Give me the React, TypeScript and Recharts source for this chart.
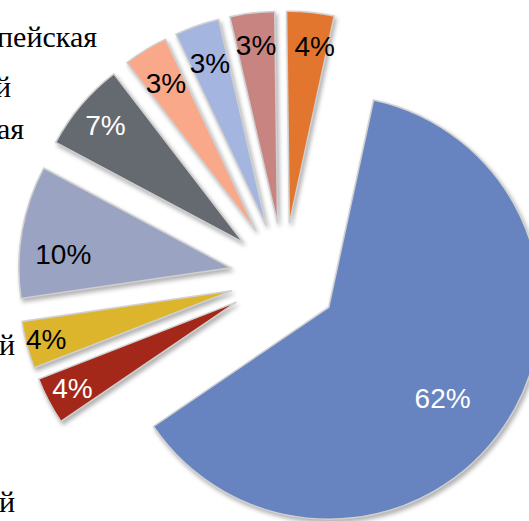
import React from "react";
import { PieChart, Pie, Cell, Customized } from "recharts";

// shares in percent, clockwise from the first slice
const shares = [62.1, 3.6, 3.6, 10.1, 6.8, 3.4, 3.4, 3.4, 3.6];
const sliceNames = ["s1", "s2", "s3", "s4", "s5", "s6", "s7", "s8", "s9"];
const colors = [
  "#6784c0",
  "#a3281a",
  "#dcb52c",
  "#9aa4c2",
  "#656a71",
  "#f9a98a",
  "#a4b5e0",
  "#c78481",
  "#e2762f",
];
const labelColors = ["#fff", "#fff", "#000", "#000", "#fff", "#000", "#000", "#000", "#000"];
// the legend is cut by the left edge: only the word endings show
const legendTails = ["пейская", "й", "ая", "й", "й"];

// layout
const CX = 284;
const CY = 277;
const R = 212;
const EXPLODE = 54;
const START_CW = 12.2; // degrees clockwise from 12 o'clock
const legendPos = [
  { x: 97, y: 47 },
  { x: 11, y: 97 },
  { x: 24, y: 139 },
  { x: 15, y: 355 },
  { x: 15, y: 512 },
];
const labelRadius = [146, 185, 192, 168, 180, 173, 172, 179, 179];
const labelTurn = [4.8, 0, 0, -5.4, 0, 0, 0, 0, 2.4];

const data = sliceNames.map((name, i) => ({ name, value: shares[i] }));
const total = shares.reduce((a, b) => a + b, 0);
const RAD = Math.PI / 180;

const midAngles: number[] = [];
let acc = 0;
shares.forEach((v) => {
  midAngles.push(START_CW + ((acc + v / 2) / total) * 360);
  acc += v;
});

const LegendTails = () => (
  <g>
    {legendTails.map((t, i) => (
      <text
        key={i}
        x={legendPos[i].x}
        y={legendPos[i].y}
        textAnchor="end"
        fontFamily="'Liberation Serif', 'Times New Roman', serif"
        fontSize={30}
        fill="#000"
      >
        {t}
      </text>
    ))}
  </g>
);

const App = () => {
  return (
    <div style={{ position: "absolute", left: 0, top: 0 }}>
      <style>
        {".recharts-sector{filter:drop-shadow(2px 3px 2px rgba(0,0,0,0.3));}"}
      </style>
      <PieChart width={529} height={521} margin={{ top: 0, right: 0, bottom: 0, left: 0 }}>
        {data.map((_, k) => {
          const m = midAngles[k] * RAD;
          const cx = CX + EXPLODE * Math.sin(m);
          const cy = CY - EXPLODE * Math.cos(m);
          const renderLabel = (props: any) => {
            if (props.index !== k) return null;
            const a = (midAngles[k] + labelTurn[k]) * RAD;
            const x = cx + labelRadius[k] * Math.sin(a);
            const y = cy - labelRadius[k] * Math.cos(a);
            return (
              <text
                x={x}
                y={y}
                textAnchor="middle"
                dominantBaseline="central"
                fontFamily="'Liberation Sans', Arial, sans-serif"
                fontSize={28}
                fill={labelColors[k]}
              >
                {`${Math.round(props.percent * 100)}%`}
              </text>
            );
          };
          return (
            <Pie
              key={k}
              data={data}
              dataKey="value"
              nameKey="name"
              cx={cx}
              cy={cy}
              outerRadius={R}
              startAngle={90 - START_CW}
              endAngle={90 - START_CW - 360}
              label={renderLabel}
              labelLine={false}
              isAnimationActive={false}
            >
              {data.map((_, i) => (
                <Cell
                  key={i}
                  fill={i === k ? colors[i] : "none"}
                  stroke={i === k ? "#d0d0d0" : "none"}
                  strokeWidth={1.5}
                />
              ))}
            </Pie>
          );
        })}
        <Customized component={LegendTails} />
      </PieChart>
    </div>
  );
};

export default App;
